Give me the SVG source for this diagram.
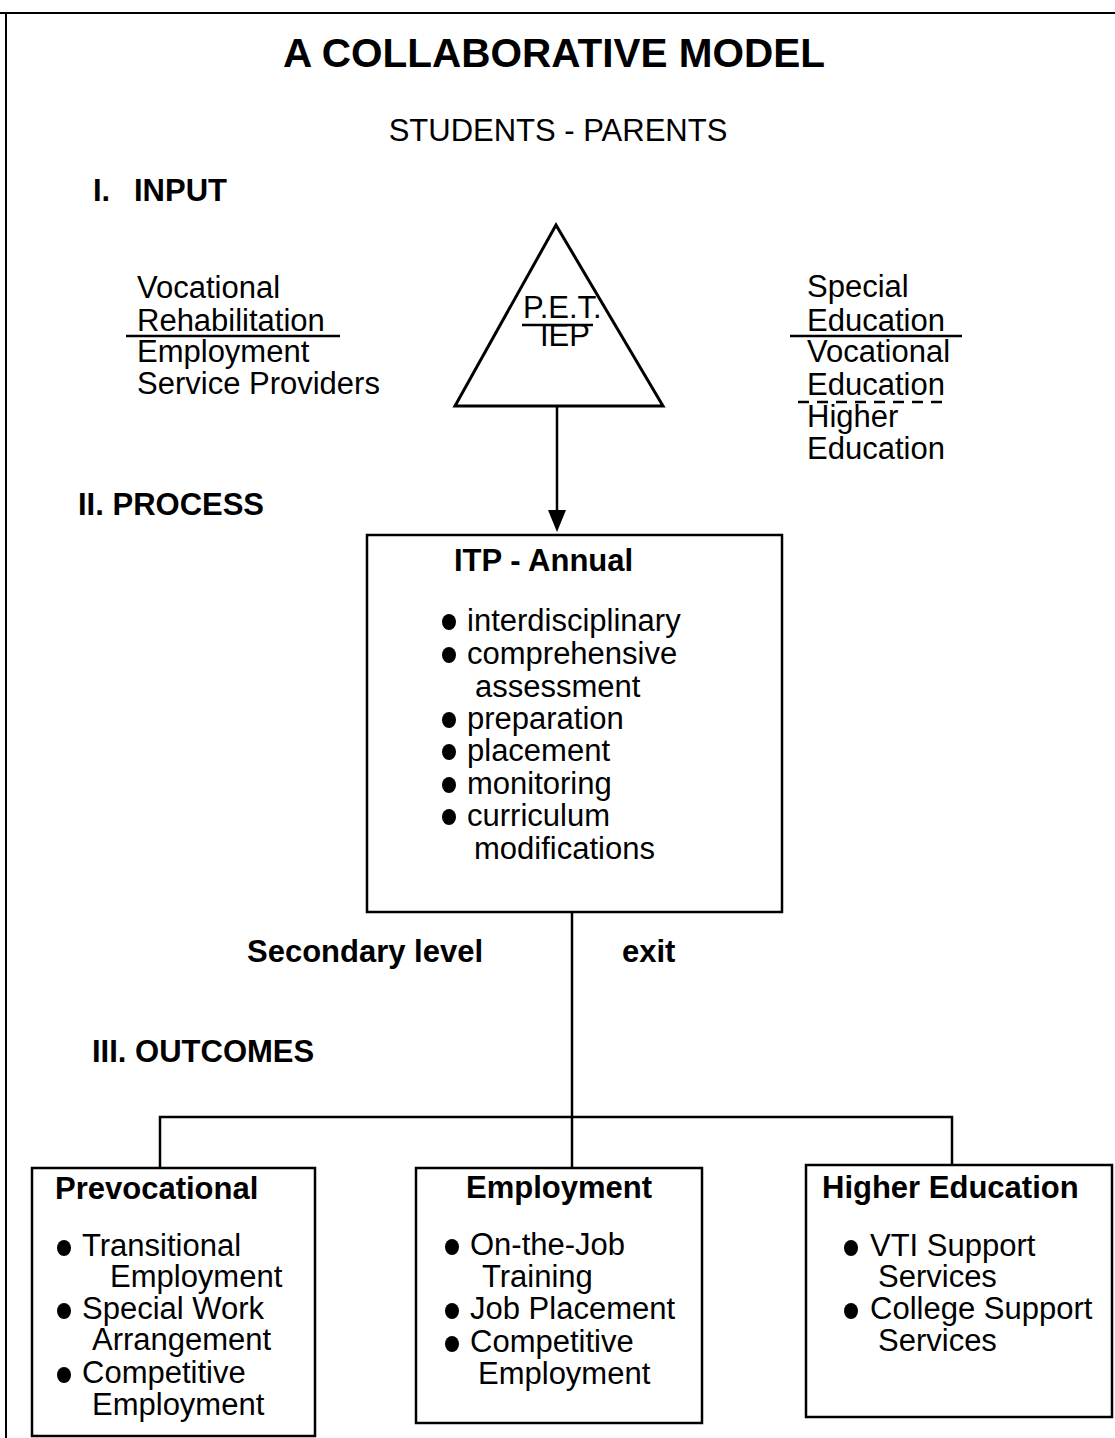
<svg xmlns="http://www.w3.org/2000/svg" width="1115" height="1438" viewBox="0 0 1115 1438">
<style>
text{font-family:"Liberation Sans",Arial,sans-serif;fill:#000;font-size:31px}
.b{font-weight:bold}
.t{font-size:40.5px}
.box{fill:#fff;stroke:#000;stroke-width:2.5}
.ln{stroke:#000;stroke-width:2.5;fill:none}
.dot{fill:#000}
</style>
<defs>
<ellipse id="bul" cx="0" cy="0" rx="7" ry="8"/>
</defs>
<rect width="1115" height="1438" fill="#fff"/>
<g id="page-border">
<line class="ln" x1="0" y1="13" x2="1115" y2="13" style="stroke-width:2"/>
<line class="ln" x1="6" y1="13" x2="6" y2="1438" style="stroke-width:2"/>
</g>
<g id="title">
<text class="b t" x="554" y="67" text-anchor="middle">A COLLABORATIVE MODEL</text>
<text x="558" y="141" text-anchor="middle">STUDENTS - PARENTS</text>
</g>
<g id="section-labels">
<text class="b" x="93" y="201">I.</text><text class="b" x="134" y="201">INPUT</text>
<text class="b" x="78" y="515">II. PROCESS</text>
<text class="b" x="92" y="1062">III. OUTCOMES</text>
</g>
<g id="input-left">
<text x="137" y="298">Vocational</text>
<text x="137" y="331">Rehabilitation</text>
<line class="ln" x1="126" y1="336" x2="340" y2="336"/>
<text x="137" y="362">Employment</text>
<text x="137" y="394">Service Providers</text>
</g>
<g id="input-right">
<text x="807" y="297">Special</text>
<text x="807" y="331">Education</text>
<line class="ln" x1="790" y1="336" x2="962" y2="336"/>
<text x="807" y="362">Vocational</text>
<text x="807" y="395">Education</text>
<line class="ln" x1="798" y1="402" x2="950" y2="402" stroke-dasharray="11 8"/>
<text x="807" y="427">Higher</text>
<text x="807" y="459">Education</text>
</g>
<g id="pet-iep">
<polygon points="556,225 455,406 663,406" fill="#fff" stroke="#000" stroke-width="3" stroke-linejoin="miter"/>
<text x="523" y="318">P.E.T.</text>
<line class="ln" x1="522" y1="325" x2="593" y2="325"/>
<text x="540" y="346">IEP</text>
</g>
<g id="connectors">
<line class="ln" x1="557" y1="406" x2="557" y2="512"/>
<polygon points="548,510 566,510 557,532" fill="#000"/>
<line class="ln" x1="572" y1="912" x2="572" y2="1168"/>
<polyline class="ln" points="160,1168 160,1117 952,1117 952,1165"/>
<text class="b" x="247" y="962">Secondary level</text>
<text class="b" x="622" y="962">exit</text>
</g>
<g id="itp-annual">
<rect class="box" x="367" y="535" width="415" height="377"/>
<text class="b" x="454" y="571">ITP - Annual</text>
<use href="#bul" x="449" y="622"/><text x="467" y="631">interdisciplinary</text>
<use href="#bul" x="449" y="655"/><text x="467" y="664">comprehensive</text>
<text x="475" y="697">assessment</text>
<use href="#bul" x="449" y="720"/><text x="467" y="729">preparation</text>
<use href="#bul" x="449" y="752"/><text x="467" y="761">placement</text>
<use href="#bul" x="449" y="785"/><text x="467" y="794">monitoring</text>
<use href="#bul" x="449" y="817"/><text x="467" y="826">curriculum</text>
<text x="474" y="859">modifications</text>
</g>
<g id="prevocational">
<rect class="box" x="32" y="1168" width="283" height="268"/>
<text class="b" x="55" y="1199">Prevocational</text>
<use href="#bul" x="64" y="1248"/><text x="82" y="1256">Transitional</text>
<text x="110" y="1287">Employment</text>
<use href="#bul" x="64" y="1311"/><text x="82" y="1319">Special Work</text>
<text x="92" y="1350">Arrangement</text>
<use href="#bul" x="64" y="1375"/><text x="82" y="1383">Competitive</text>
<text x="92" y="1415">Employment</text>
</g>
<g id="employment">
<rect class="box" x="416" y="1168" width="286" height="255"/>
<text class="b" x="466" y="1198">Employment</text>
<use href="#bul" x="452" y="1247"/><text x="470" y="1255">On-the-Job</text>
<text x="482" y="1287">Training</text>
<use href="#bul" x="452" y="1311"/><text x="470" y="1319">Job Placement</text>
<use href="#bul" x="452" y="1344"/><text x="470" y="1352">Competitive</text>
<text x="478" y="1384">Employment</text>
</g>
<g id="higher-education">
<rect class="box" x="806" y="1165" width="306" height="252"/>
<text class="b" x="822" y="1198">Higher Education</text>
<use href="#bul" x="851" y="1248"/><text x="870" y="1256">VTI Support</text>
<text x="878" y="1287">Services</text>
<use href="#bul" x="851" y="1311"/><text x="870" y="1319">College Support</text>
<text x="878" y="1351">Services</text>
</g>
</svg>
